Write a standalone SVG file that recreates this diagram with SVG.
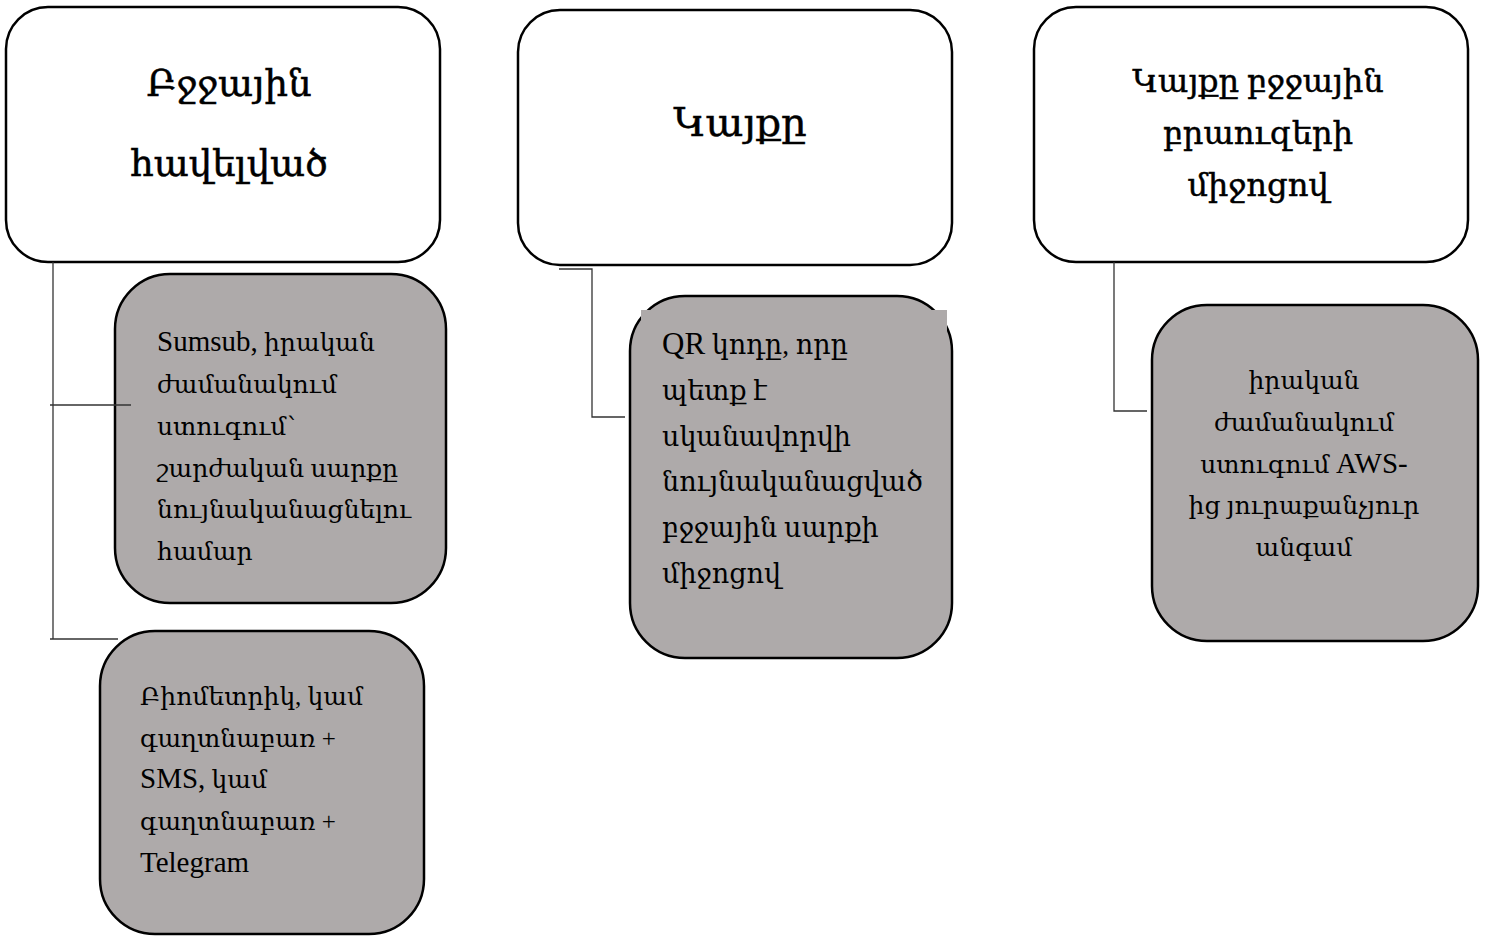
<svg xmlns="http://www.w3.org/2000/svg" width="1488" height="936" viewBox="0 0 1488 936">
<style>
.hd{fill:#fff;stroke:#000;stroke-width:2.5}
.sub{fill:#aeaaaa;stroke:#000;stroke-width:2.5}
.ln{fill:none;stroke:#333;stroke-width:1.3}
text{font-family:"Liberation Serif","DejaVu Serif","DejaVu Sans",serif;fill:#000}
.t{font-size:32px;text-anchor:middle;stroke:#000;stroke-width:0.5}
.s{font-size:25px}
.q{font-size:27px}
.c{text-anchor:middle}
.L{font-size:29px}
.LQ{font-size:31px}
</style>
<rect width="1488" height="936" fill="#fff"/>
<g id="node-mobile-app">
<rect class="hd" x="6" y="7" width="434" height="255" rx="42"/>
<text class="t" style="font-size:37px" x="229" y="96">Բջջային</text>
<text class="t" style="font-size:37px" x="229" y="176">հավելված</text>
</g>
<g id="node-site">
<rect class="hd" x="518" y="10" width="434" height="255" rx="42"/>
<text class="t" style="font-size:40px" x="740" y="136">Կայքը</text>
</g>
<g id="node-site-browser">
<rect class="hd" x="1034" y="7" width="434" height="255" rx="42"/>
<text class="t" x="1258" y="92">Կայքը բջջային</text>
<text class="t" x="1258" y="144">բրաուզերի</text>
<text class="t" x="1258" y="196">միջոցով</text>
</g>
<g id="node-sumsub">
<rect class="sub" x="115" y="274" width="331" height="329" rx="55"/>
<text class="s" x="157" y="351"><tspan class="L">Sumsub,</tspan> իրական</text>
<text class="s" x="157" y="393">ժամանակում</text>
<text class="s" x="157" y="435">ստուգում՝</text>
<text class="s" x="157" y="477">շարժական սարքը</text>
<text class="s" x="157" y="518">նույնականացնելու</text>
<text class="s" x="157" y="560">համար</text>
</g>
<g id="node-biometric">
<rect class="sub" x="100" y="631" width="324" height="303" rx="55"/>
<text class="s" x="140" y="705">Բիոմետրիկ, կամ</text>
<text class="s" x="140" y="747">գաղտնաբառ +</text>
<text class="s" x="140" y="788"><tspan class="L">SMS,</tspan> կամ</text>
<text class="s" x="140" y="830">գաղտնաբառ +</text>
<text class="s" x="140" y="872"><tspan class="L">Telegram</tspan></text>
</g>
<g id="node-qr">
<rect class="sub" x="630" y="296" width="322" height="362" rx="55"/>
<rect x="641" y="310" width="306" height="312" fill="#aeaaaa"/>
<text class="q" x="662" y="354"><tspan class="LQ">QR</tspan> կոդը, որը</text>
<text class="q" x="662" y="400">պետք է</text>
<text class="q" x="662" y="446">սկանավորվի</text>
<text class="q" x="662" y="491">նույնականացված</text>
<text class="q" x="662" y="537">բջջային սարքի</text>
<text class="q" x="662" y="583">միջոցով</text>
</g>
<g id="node-aws">
<rect class="sub" x="1152" y="305" width="326" height="336" rx="55"/>
<text class="s c" x="1304" y="389">իրական</text>
<text class="s c" x="1304" y="431">ժամանակում</text>
<text class="s c" x="1304" y="473">ստուգում <tspan class="L">AWS-</tspan></text>
<text class="s c" x="1304" y="514">ից յուրաքանչյուր</text>
<text class="s c" x="1304" y="556">անգամ</text>
</g>
<g id="connectors">
<polyline class="ln" points="53,262 53,639"/>
<line class="ln" x1="50" y1="405" x2="131" y2="405"/>
<line class="ln" x1="50" y1="639" x2="118" y2="639"/>
<polyline class="ln" points="559,269 592,269 592,417 625,417"/>
<polyline class="ln" points="1114,262 1114,411 1147,411"/>
</g>
</svg>
